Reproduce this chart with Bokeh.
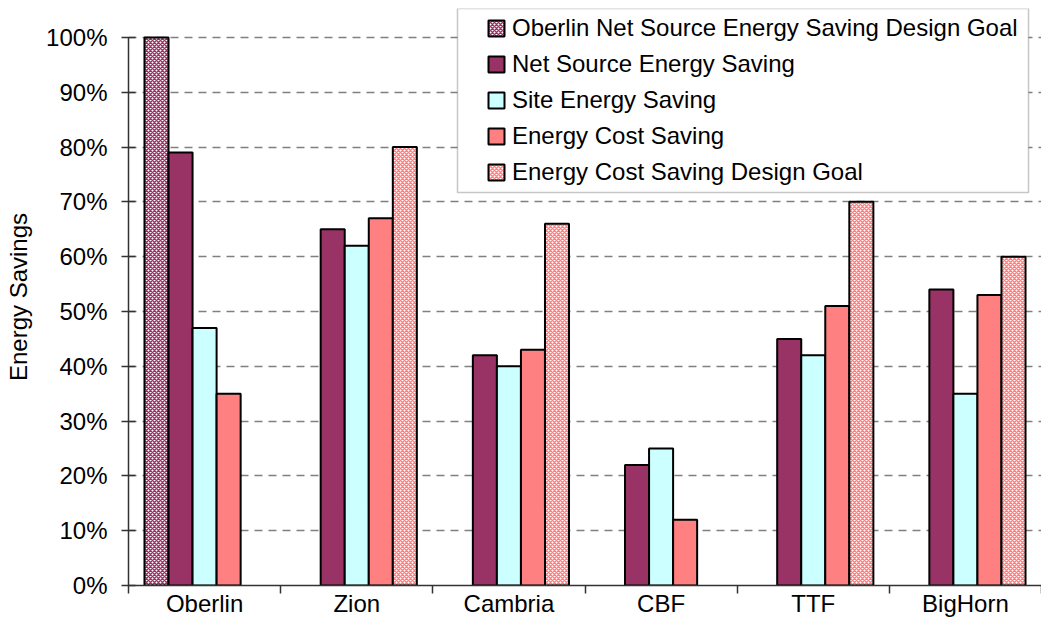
from bokeh.plotting import figure
from bokeh.models import (ColumnDataSource, FixedTicker, NumeralTickFormatter, Legend,
                          LegendItem, Range1d, BoxAnnotation)
from bokeh.embed import file_html
from bokeh.resources import INLINE

categories = ["Oberlin", "Zion", "Cambria", "CBF", "TTF", "BigHorn"]
oberlin_goal = [100, None, None, None, None, None]
net_source = [79, 65, 42, 22, 45, 54]
site_saving = [47, 62, 40, 25, 42, 35]
cost_saving = [35, 67, 43, 12, 51, 53]
cost_goal = [None, 80, 66, None, 70, 60]
y_ticks = [0, 0.1, 0.2, 0.3, 0.4, 0.5, 0.6, 0.7, 0.8, 0.9, 1.0]

series = [
    ("Oberlin Net Source Energy Saving Design Goal", oberlin_goal,
     dict(fill_color="white", hatch_pattern="diagonal_cross", hatch_color="#993366",
          hatch_scale=4, hatch_weight=1.5)),
    ("Net Source Energy Saving", net_source, dict(fill_color="#993366")),
    ("Site Energy Saving", site_saving, dict(fill_color="#CCFFFF")),
    ("Energy Cost Saving", cost_saving, dict(fill_color="#FF8080")),
    ("Energy Cost Saving Design Goal", cost_goal,
     dict(fill_color="white", hatch_pattern="diagonal_cross", hatch_color="#FF8080",
          hatch_scale=4, hatch_weight=1.5)),
]

FONT = "Liberation Sans"
FS = "24px"

# frame: left 128, top 8 (100% line at 37), bottom 586
p = figure(width=1041, height=619, output_backend="svg", toolbar_location=None,
           x_range=Range1d(0, len(categories)), y_range=Range1d(0, 1.0 + 29 / 549),
           min_border_left=128, min_border_right=0, min_border_top=8,
           min_border_bottom=33)
p.outline_line_color = None
p.xgrid.grid_line_color = None
p.ygrid.ticker = FixedTicker(ticks=y_ticks)
p.ygrid.grid_line_color = "#808080"
p.ygrid.grid_line_dash = "8 6"
p.ygrid.grid_line_width = 1.5

bw = 0.158
n = len(series)
items = []
for k, (name, vals, style) in enumerate(series):
    xs, tops = [], []
    for i, v in enumerate(vals):
        if v is not None:
            xs.append(i + 0.5 + (k - (n - 1) / 2) * bw)
            tops.append(v / 100)
    src = ColumnDataSource(dict(x=xs, top=tops))
    r = p.vbar(x="x", top="top", bottom=0, width=bw, source=src,
               line_color="black", line_width=2, **style)
    items.append(LegendItem(label=name, renderers=[r]))

# y axis
p.yaxis.ticker = FixedTicker(ticks=y_ticks)
p.yaxis.bounds = (0, 1)
p.yaxis.formatter = NumeralTickFormatter(format="0%")
p.yaxis.axis_label = "Energy Savings"
p.yaxis.axis_label_text_font = FONT
p.yaxis.axis_label_text_font_size = FS
p.yaxis.axis_label_text_font_style = "normal"
p.yaxis.axis_label_text_color = "black"
p.yaxis.axis_label_standoff = 11
p.yaxis.major_label_text_font = FONT
p.yaxis.major_label_text_font_size = FS
p.yaxis.major_label_text_color = "black"
p.yaxis.major_label_standoff = 14
p.yaxis.major_tick_out = 7
p.yaxis.major_tick_in = 7
p.yaxis.minor_tick_line_color = None
p.yaxis.axis_line_color = "#333333"
p.yaxis.axis_line_width = 1.5
p.yaxis.major_tick_line_color = "#333333"
p.yaxis.major_tick_line_width = 1.5

# x axis
centers = [i + 0.5 for i in range(len(categories))]
bounds = list(range(len(categories) + 1))
p.xaxis.ticker = FixedTicker(ticks=centers, minor_ticks=bounds)
p.xaxis.major_label_overrides = {c: name for c, name in zip(centers, categories)}
p.xaxis.major_label_text_font = FONT
p.xaxis.major_label_text_font_size = FS
p.xaxis.major_label_text_color = "black"
p.xaxis.major_label_standoff = -4
p.xaxis.major_tick_line_color = None
p.xaxis.major_tick_out = 0
p.xaxis.major_tick_in = 0
p.xaxis.minor_tick_line_color = "#333333"
p.xaxis.minor_tick_line_width = 1.5
p.xaxis.minor_tick_out = 8
p.xaxis.minor_tick_in = 0
p.xaxis.axis_line_color = "#333333"
p.xaxis.axis_line_width = 1.5

# legend frame (from frame bottom-left, in pixels)
box = BoxAnnotation(left=329, right=900, top=577, bottom=393,
                    left_units="screen", right_units="screen",
                    top_units="screen", bottom_units="screen",
                    fill_color="white", fill_alpha=1.0,
                    line_color="#444444", line_width=1.5, level="overlay")
p.add_layout(box)

legend = Legend(items=items, location=(358, 399), orientation="vertical",
                label_text_font=FONT, label_text_font_size=FS,
                label_text_color="black", label_height=24, label_standoff=6,
                glyph_width=20, glyph_height=20, spacing=8, padding=4,
                border_line_color=None, background_fill_alpha=0.0, margin=0)
p.add_layout(legend, "center")

open("out.html", "w").write(file_html(p, INLINE))
